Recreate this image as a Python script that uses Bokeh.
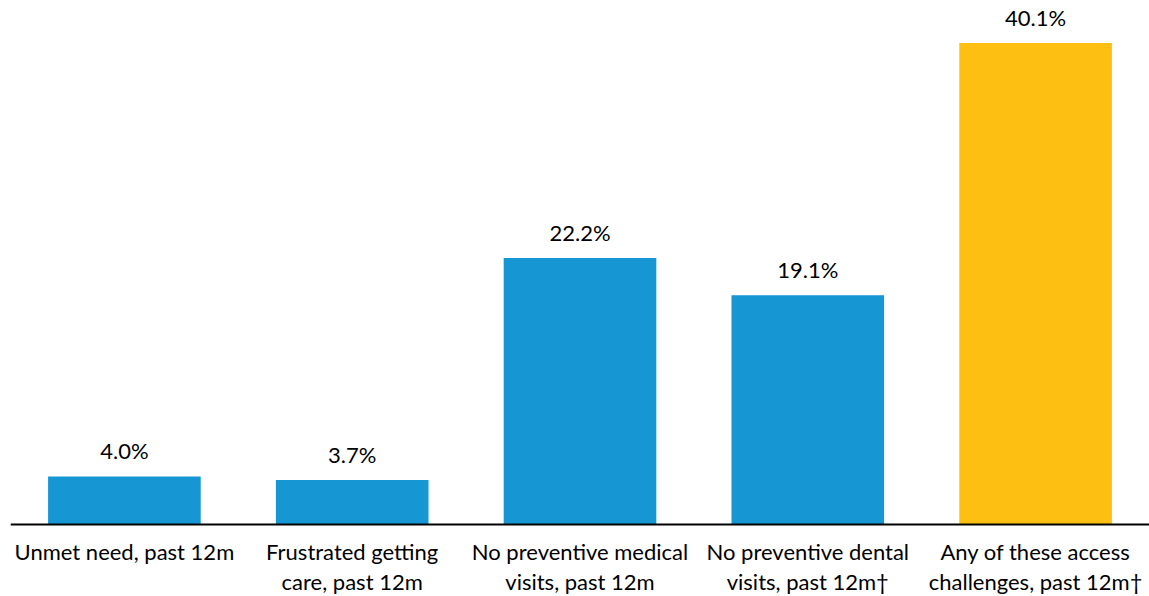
from bokeh.plotting import figure
from bokeh.models import ColumnDataSource, Range1d, Span
from bokeh.core.properties import value
from bokeh.embed import file_html
from bokeh.resources import INLINE

# Access-to-care measures and shares (%)
categories = [
    "Unmet need, past 12m",
    "Frustrated getting\ncare, past 12m",
    "No preventive medical\nvisits, past 12m",
    "No preventive dental\nvisits, past 12m\u2020",
    "Any of these access\nchallenges, past 12m\u2020",
]
shares = [4.0, 3.7, 22.2, 19.1, 40.1]
bar_colors = ["#1696d2", "#1696d2", "#1696d2", "#1696d2", "#fdbf11"]
value_labels = [f"{v:.1f}%" for v in shares]
baseline = [0.0] * len(categories)

source = ColumnDataSource(dict(
    cat=categories, share=shares, color=bar_colors, label=value_labels, base=baseline,
))

FONT = "Lato"

# Range runs below zero to leave room for the category labels under the baseline
p = figure(
    x_range=categories,
    y_range=Range1d(-6.0, 43.65),
    width=1149,
    height=596,
    min_border_left=10,
    min_border_right=0,
    min_border_top=0,
    min_border_bottom=0,
    output_backend="svg",
    toolbar_location=None,
)

p.vbar(x="cat", top="share", bottom="base", width=0.67, color="color",
       source=source, line_color=None)

# Value labels above each bar
p.text(
    x="cat", y="share", text="label", source=source,
    text_align="center", text_baseline="bottom", y_offset=-12,
    text_font=value(FONT), text_font_size="22px", text_color="#000000",
)

# Category labels under the baseline
p.text(
    x="cat", y="base", text="cat", source=source,
    text_align="center", text_baseline="top", y_offset=14,
    text_font=value(FONT), text_font_size="22px", text_color="#000000",
    text_line_height=1.1,
)

# Baseline rule at zero
p.add_layout(Span(location=0, dimension="width", line_color="#000000", line_width=2))

p.xgrid.grid_line_color = None
p.ygrid.grid_line_color = None
p.outline_line_color = None
p.xaxis.visible = False
p.yaxis.visible = False

open("out.html", "w").write(file_html(p, INLINE))
